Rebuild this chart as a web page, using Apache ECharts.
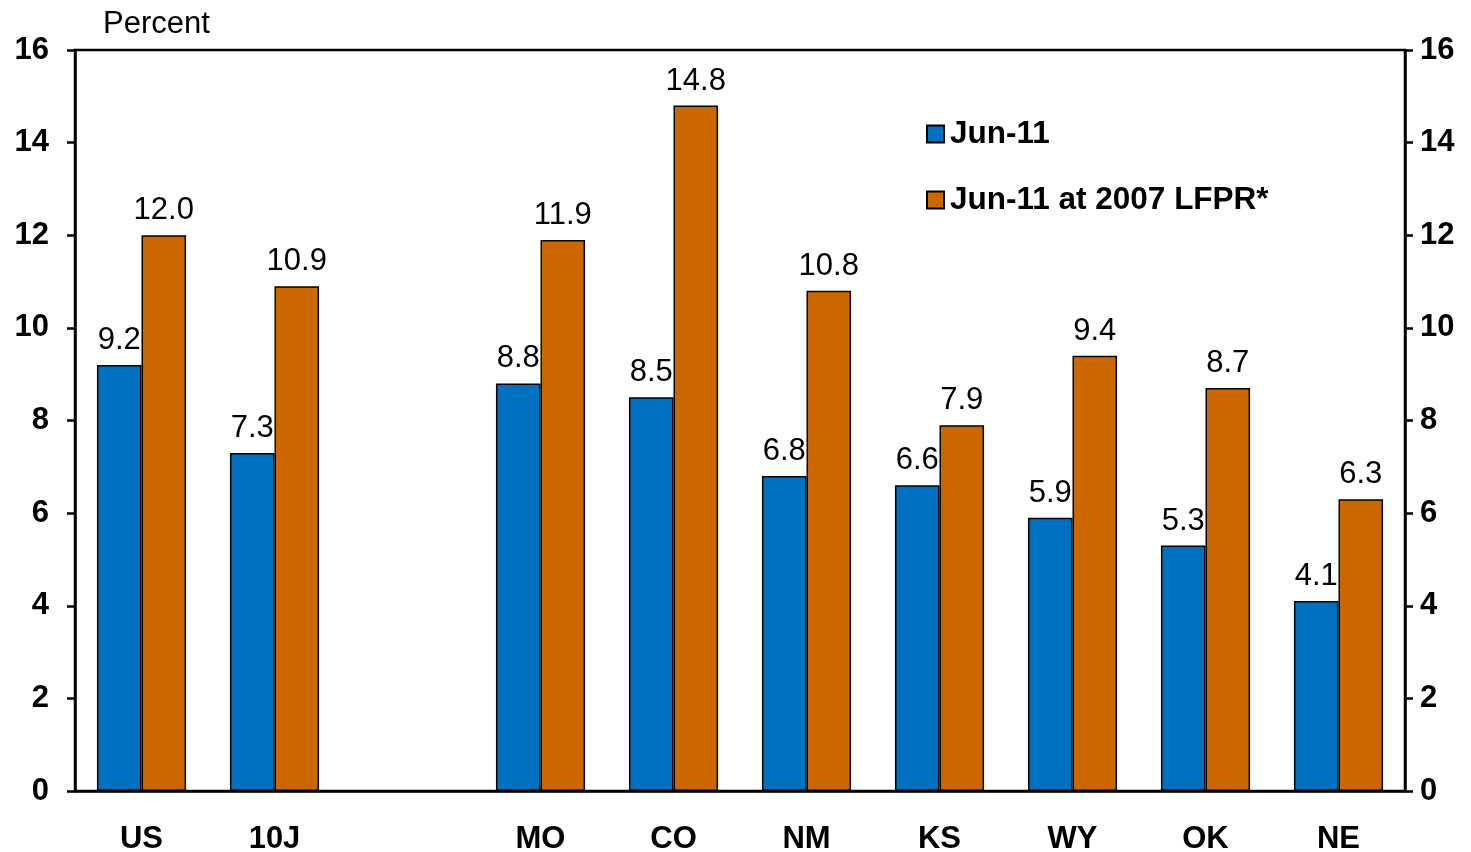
<!DOCTYPE html>
<html>
<head>
<meta charset="utf-8">
<script src="https://cdn.jsdelivr.net/npm/echarts@6/dist/echarts.min.js"></script>
<style>
html,body{margin:0;padding:0;background:#fff;}
#chart{width:1471px;height:852px;}
</style>
</head>
<body>
<div id="chart"></div>
<script>
const categories = ['US', '10J', '', 'MO', 'CO', 'NM', 'KS', 'WY', 'OK', 'NE'];
const jun11 = [9.2, 7.3, '-', 8.8, 8.5, 6.8, 6.6, 5.9, 5.3, 4.1];
const jun11Lfpr = [12.0, 10.9, '-', 11.9, 14.8, 10.8, 7.9, 9.4, 8.7, 6.3];
const seriesNames = ['Jun-11', 'Jun-11 at 2007 LFPR*'];
const yTicks = {min: 0, max: 16, interval: 2};

const FONT = 'Liberation Sans, Arial, sans-serif';
const chart = echarts.init(document.getElementById('chart'), null, {renderer: 'canvas'});

const yAxisBase = {
  type: 'value',
  min: yTicks.min, max: yTicks.max, interval: yTicks.interval,
  splitLine: {show: false},
  axisLine: {show: true, lineStyle: {color: '#000', width: 2.5}},
  axisTick: {show: true, inside: false, length: 8, lineStyle: {color: '#000', width: 2.5}},
  axisLabel: {color: '#000', fontFamily: FONT, fontSize: 31, fontWeight: 'bold'}
};

const labelStyle = {
  show: true, position: 'top', distance: 9,
  color: '#000', fontFamily: FONT, fontSize: 31,
  formatter: p => Number(p.value).toFixed(1)
};

chart.setOption({
  animation: false,
  backgroundColor: '#fff',
  title: {
    text: 'Percent', left: 98, top: 4,
    textStyle: {fontFamily: FONT, fontSize: 31, fontWeight: 'normal', color: '#000'}
  },
  legend: {
    orient: 'vertical', left: 921, top: 113,
    itemWidth: 17, itemHeight: 17, itemGap: 34,
    textStyle: {fontFamily: FONT, fontSize: 31.5, fontWeight: 'bold', color: '#000', padding: [0, 0, 0, 1]},
    data: seriesNames.map(n => ({name: n, icon: 'rect'}))
  },
  grid: {
    left: 75, right: 66, top: 50, bottom: 61,
    containLabel: false, outerBoundsMode: 'none',
    show: true, borderColor: '#000', borderWidth: 2.5, backgroundColor: 'transparent'
  },
  xAxis: {
    type: 'category', data: categories,
    axisLine: {show: true, lineStyle: {color: '#000', width: 2.5}},
    axisTick: {show: false},
    axisLabel: {color: '#000', fontFamily: FONT, fontSize: 31, fontWeight: 'bold', margin: 33, interval: 0},
    splitLine: {show: false}
  },
  yAxis: [
    Object.assign({}, yAxisBase, {position: 'left', axisLabel: Object.assign({}, yAxisBase.axisLabel, {margin: 26})}),
    Object.assign({}, yAxisBase, {position: 'right', axisLabel: Object.assign({}, yAxisBase.axisLabel, {margin: 15})})
  ],
  series: [
    {
      name: seriesNames[0], type: 'bar', data: jun11, yAxisIndex: 0,
      barGap: '0%', barCategoryGap: '33%',
      itemStyle: {color: '#0070C0', borderColor: '#000', borderWidth: 1.5},
      label: labelStyle
    },
    {
      name: seriesNames[1], type: 'bar', data: jun11Lfpr, yAxisIndex: 0,
      barGap: '0%', barCategoryGap: '33%',
      itemStyle: {color: '#CC6600', borderColor: '#000', borderWidth: 1.5},
      label: labelStyle
    }
  ]
});
</script>
</body>
</html>
